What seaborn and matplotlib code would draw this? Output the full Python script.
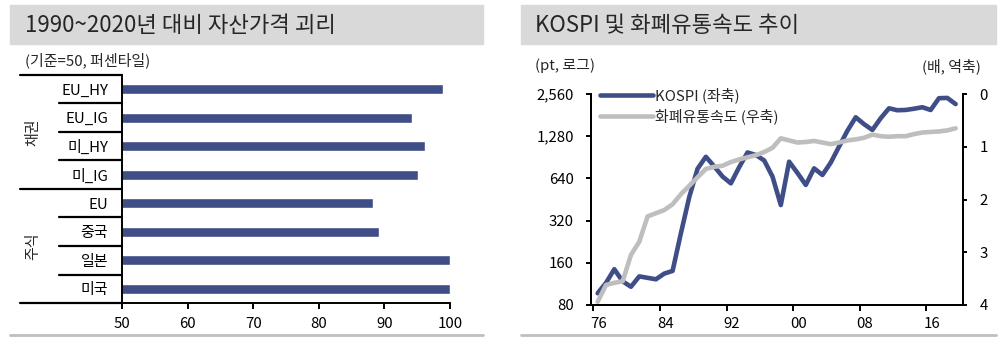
import numpy as np
import pandas as pd
import matplotlib
matplotlib.use("Agg")
import matplotlib.pyplot as plt
import matplotlib.transforms as mtransforms
from matplotlib.patches import Rectangle
from matplotlib.lines import Line2D
import seaborn as sns

# ---------------- data ----------------
left_title = "1990~2020년 대비 자산가격 괴리"
left_sub = "(기준=50, 퍼센타일)"
assets = ["EU_HY", "EU_IG", "미_HY", "미_IG", "EU", "중국", "일본", "미국"]
groups = ["채권", "채권", "채권", "채권", "주식", "주식", "주식", "주식"]
percentile = [99, 94.2, 96.2, 95.1, 88.2, 89.2, 100, 100]
bar_xticks = [50, 60, 70, 80, 90, 100]

right_title = "KOSPI 및 화폐유통속도 추이"
left_unit = "(pt, 로그)"
right_unit = "(배, 역축)"
years = list(range(1976, 2020))
kospi = [97, 115, 144, 118, 108, 128, 125, 122, 134, 140,
         260, 470, 750, 913, 780, 660, 590, 770, 980, 940,
         860, 660, 413, 842, 700, 575, 755, 677, 830, 1080,
         1400, 1747, 1560, 1418, 1720, 2024, 1960, 1970, 2010, 2060,
         1968, 2390, 2400, 2170]
velocity = [3.94, 3.62, 3.58, 3.55, 3.05, 2.80, 2.32, 2.26, 2.20, 2.09,
            1.90, 1.74, 1.58, 1.42, 1.38, 1.36, 1.29, 1.24, 1.20, 1.16,
            1.10, 1.02, 0.84, 0.88, 0.92, 0.91, 0.89, 0.92, 0.95, 0.92,
            0.88, 0.86, 0.83, 0.77, 0.80, 0.81, 0.80, 0.80, 0.76, 0.73,
            0.72, 0.71, 0.69, 0.65]
kospi_ticks = [80, 160, 320, 640, 1280, 2560]
kospi_ticklabels = ["80", "160", "320", "640", "1,280", "2,560"]
vel_ticks = [0, 1, 2, 3, 4]
year_ticks = [1976, 1984, 1992, 2000, 2008, 2016]
legend_labels = ["KOSPI (좌축)", "화폐유통속도 (우축)"]

# ---------------- style ----------------
sns.set_theme(style="white")
plt.rcParams["font.family"] = ["Noto Sans CJK KR", "DejaVu Sans"]
plt.rcParams["axes.unicode_minus"] = False

NAVY = "#404E88"
GRAY = "#BEBEBE"
BOX = "#D9D9D9"
FS = 10.8
LW = 3.3

W, H = 1000, 339
fig = plt.figure(figsize=(W / 100, H / 100), dpi=100)


def fx(px):
    return px / W


def fy(py):
    return 1 - py / H


# title boxes and bottom rules
for x0, x1 in [(10, 483), (521, 996)]:
    fig.patches.append(Rectangle((fx(x0), fy(44)), fx(x1 - x0), (44 - 5) / H,
                                 transform=fig.transFigure, color=BOX, zorder=0))
    fig.lines.append(Line2D([fx(x0), fx(x1)], [fy(335), fy(335)],
                            transform=fig.transFigure, color="#BFBFBF", lw=2))
fig.text(fx(25), fy(25), left_title, fontsize=16, va="center", ha="left")
fig.text(fx(535), fy(25), right_title, fontsize=16, va="center", ha="left")
fig.text(fx(25), fy(60), left_sub, fontsize=FS, va="center", ha="left")
fig.text(fx(535), fy(66), left_unit, fontsize=FS, va="center", ha="left")
fig.text(fx(981), fy(66), right_unit, fontsize=FS, va="center", ha="right")

# ---------------- left: bar chart ----------------
axL = fig.add_axes([fx(122), fy(303), fx(450 - 122), (303 - 75) / H])
dfb = pd.DataFrame({"asset": assets, "group": groups, "value": percentile})
sns.barplot(data=dfb, y="asset", x="value", orient="h", color=NAVY,
            saturation=1, width=0.35, ax=axL, order=assets)
axL.set_xlim(50, 100)
axL.set_ylim(len(assets) - 0.5, -0.5)
axL.set_xticks(bar_xticks)
axL.set_xlabel("")
axL.set_ylabel("")
for s in ["top", "right"]:
    axL.spines[s].set_visible(False)
for s in ["left", "bottom"]:
    axL.spines[s].set_color("black")
    axL.spines[s].set_linewidth(1.4)
axL.tick_params(axis="x", bottom=True, length=4, width=1.4, color="black",
                pad=6, labelsize=FS, direction="out")
axL.tick_params(axis="y", left=False, length=0, pad=10, labelsize=FS)
for lab in axL.get_xticklabels() + axL.get_yticklabels():
    lab.set_color("black")

# separators and group labels
trans = mtransforms.blended_transform_factory(fig.transFigure, axL.transData)
n = len(assets)
for i in range(n + 1):
    yb = i - 0.5
    if i == 0 or i == n or groups[i - 1] != groups[min(i, n - 1)]:
        x0 = fx(20)
    else:
        x0 = fx(59)
    axL.add_line(Line2D([x0, fx(122)], [yb, yb], transform=trans,
                        color="black", lw=1.6, clip_on=False))
seen = []
for g in groups:
    if g not in seen:
        seen.append(g)
for g in seen:
    idx = [i for i, gg in enumerate(groups) if gg == g]
    yc = (idx[0] + idx[-1]) / 2
    axL.text(fx(33), yc, g, transform=trans, rotation=90, fontsize=FS,
             ha="center", va="center")

# ---------------- right: line chart ----------------
axR = fig.add_axes([fx(591), fy(305), fx(962.7 - 591), (305 - 94) / H])
dfl = pd.DataFrame({"year": years, "kospi": kospi, "vel": velocity})
dfl["x"] = dfl["year"] + 0.5
sns.lineplot(data=dfl, x="x", y="kospi", ax=axR, color=NAVY, linewidth=LW,
             legend=False)
axR.set_yscale("log", base=2)
axR.set_ylim(80, 2560)
axR.set_yticks(kospi_ticks)
axR.set_yticklabels(kospi_ticklabels)
axR.minorticks_off()
axR.set_xlim(1975.7, 2020.35)
axR.set_xticks(year_ticks)
axR.set_xticklabels([f"{y % 100:02d}" for y in year_ticks])
axR.set_xlabel("")
axR.set_ylabel("")

ax2 = axR.twinx()
sns.lineplot(data=dfl, x="x", y="vel", ax=ax2, color=GRAY, linewidth=LW,
             legend=False)
ax2.set_ylim(4, 0)
ax2.set_yticks(vel_ticks)
ax2.set_ylabel("")
ax2.set_xlim(1975.7, 2020.35)

for a in (axR, ax2):
    a.spines["top"].set_visible(False)
    for s in ["left", "bottom", "right"]:
        a.spines[s].set_color("black")
        a.spines[s].set_linewidth(1.4)
axR.tick_params(axis="x", bottom=True, length=4, width=1.4, color="black",
                pad=5, labelsize=FS, direction="out")
axR.tick_params(axis="y", left=True, length=3.5, width=1.4, color="black",
                pad=9, labelsize=FS, direction="out")
ax2.tick_params(axis="y", right=True, length=3, width=1.4, color="black",
                pad=9, labelsize=FS, direction="out")
offset = mtransforms.ScaledTranslation(5 / 100, 0, fig.dpi_scale_trans)
for lab in axR.get_xticklabels():
    lab.set_transform(lab.get_transform() + offset)
for lab in axR.get_xticklabels() + axR.get_yticklabels() + ax2.get_yticklabels():
    lab.set_color("black")

handles = [Line2D([], [], color=NAVY, lw=LW), Line2D([], [], color=GRAY, lw=LW)]
leg = ax2.legend(handles, legend_labels, loc="upper left",
                 bbox_to_anchor=(fx(600), fy(87)), bbox_transform=fig.transFigure,
                 frameon=False, fontsize=FS, handlelength=3.5, handletextpad=0.15,
                 labelspacing=0.35, borderpad=0, borderaxespad=0)

fig.savefig("out.png", dpi=100)
